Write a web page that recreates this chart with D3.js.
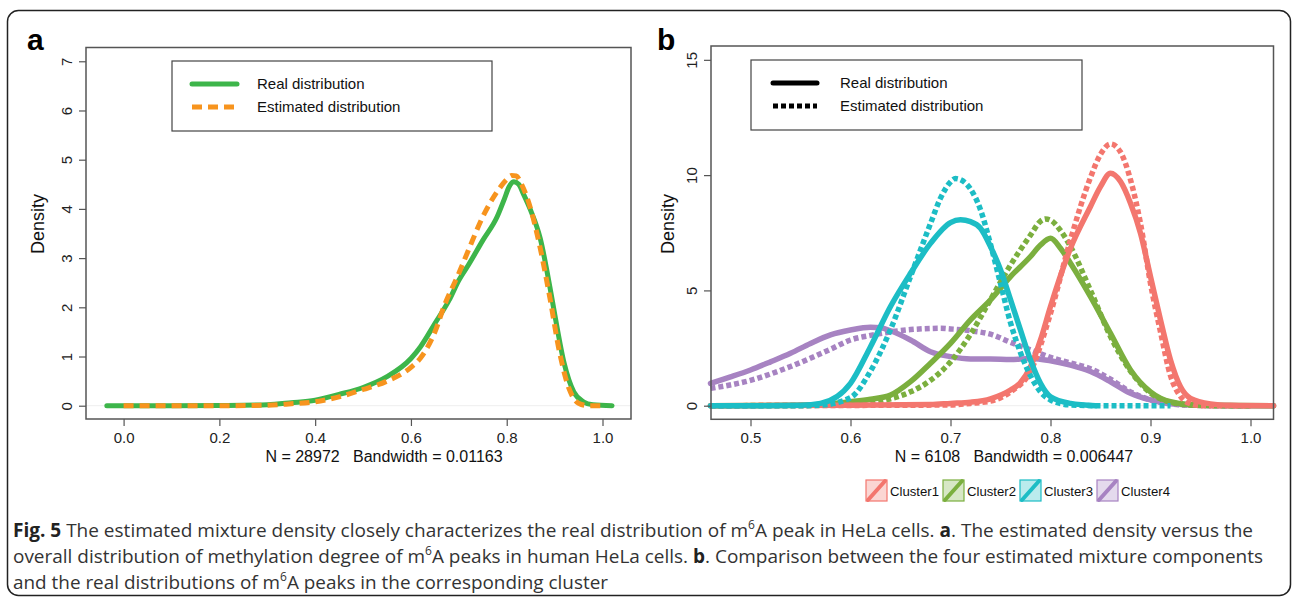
<!DOCTYPE html>
<html><head><meta charset="utf-8">
<script src="https://cdn.jsdelivr.net/npm/d3@7/dist/d3.min.js"></script>
<style>
body{margin:0;background:#fff;}
svg{display:block;}
</style></head>
<body><svg id="c" width="1295" height="601"></svg>
<script>
// ---------- Panel a data ----------
const aRealX = [-0.035, 0.1, 0.2, 0.3, 0.35, 0.4, 0.45, 0.5, 0.55, 0.6, 0.62, 0.65, 0.68, 0.70, 0.72, 0.75, 0.78, 0.795, 0.805, 0.815, 0.825, 0.835, 0.85, 0.87, 0.89, 0.90, 0.92, 0.94, 0.96, 0.98, 1.02];
const aRealY = [0, 0, 0.005, 0.02, 0.06, 0.11, 0.23, 0.37, 0.59, 0.96, 1.2, 1.67, 2.15, 2.55, 2.86, 3.36, 3.84, 4.2, 4.45, 4.55, 4.5, 4.3, 3.97, 3.4, 2.42, 1.87, 0.86, 0.28, 0.08, 0.02, 0];
const aEstX = [0.0, 0.1, 0.2, 0.3, 0.35, 0.4, 0.45, 0.5, 0.55, 0.6, 0.62, 0.65, 0.67, 0.70, 0.72, 0.75, 0.78, 0.80, 0.81, 0.82, 0.83, 0.85, 0.87, 0.89, 0.91, 0.93, 0.95, 0.97, 1.0];
const aEstY = [0, 0, 0, 0.01, 0.04, 0.08, 0.18, 0.33, 0.5, 0.78, 0.97, 1.5, 2.04, 2.69, 3.16, 3.84, 4.35, 4.6, 4.68, 4.67, 4.52, 4.0, 3.2, 2.2, 1.1, 0.35, 0.05, 0, 0];
const aXTicks = [0.0, 0.2, 0.4, 0.6, 0.8, 1.0];
const aYTicks = [0, 1, 2, 3, 4, 5, 6, 7];
const aLegend = ["Real distribution", "Estimated distribution"];
const aSub = "N = 28972   Bandwidth = 0.01163";

// ---------- Panel b data ----------
const clusters = ["Cluster1", "Cluster2", "Cluster3", "Cluster4"];
const c1RealX = [0.46, 0.6, 0.68, 0.70, 0.72, 0.74, 0.76, 0.77, 0.78, 0.79, 0.80, 0.82, 0.84, 0.85, 0.86, 0.87, 0.88, 0.89, 0.90, 0.91, 0.92, 0.93, 0.94, 0.96, 0.98, 1.023];
const c1RealY = [0, 0.02, 0.05, 0.1, 0.15, 0.3, 0.68, 1.0, 1.69, 2.85, 4.3, 6.83, 8.64, 9.5, 10.08, 9.72, 8.78, 7.48, 5.6, 3.72, 1.98, 0.82, 0.32, 0.08, 0.02, 0];
const c1EstX = [0.46, 0.70, 0.72, 0.74, 0.76, 0.78, 0.80, 0.82, 0.84, 0.85, 0.86, 0.87, 0.88, 0.89, 0.90, 0.91, 0.92, 0.93, 0.94, 0.95, 0.98, 1.0];
const c1EstY = [0, 0.03, 0.1, 0.2, 0.6, 1.5, 4.0, 7.2, 9.9, 10.9, 11.35, 11.0, 9.8, 7.9, 5.3, 3.2, 1.3, 0.4, 0.08, 0, 0, 0];
const c2RealX = [0.46, 0.55, 0.58, 0.6, 0.62, 0.64, 0.66, 0.68, 0.70, 0.72, 0.74, 0.76, 0.78, 0.79, 0.80, 0.81, 0.82, 0.84, 0.86, 0.88, 0.90, 0.92, 0.95, 1.023];
const c2RealY = [0, 0.02, 0.08, 0.17, 0.28, 0.46, 1.04, 1.84, 2.7, 3.72, 4.59, 5.6, 6.47, 6.97, 7.26, 6.83, 6.18, 4.73, 3.14, 1.55, 0.6, 0.17, 0.02, 0];
const c2EstX = [0.46, 0.58, 0.6, 0.62, 0.64, 0.66, 0.68, 0.70, 0.72, 0.74, 0.76, 0.78, 0.79, 0.795, 0.80, 0.81, 0.82, 0.84, 0.86, 0.88, 0.90, 0.92, 0.94, 0.97, 1.0];
const c2EstY = [0, 0.02, 0.05, 0.15, 0.3, 0.6, 1.1, 1.9, 3.1, 4.6, 6.1, 7.4, 8.0, 8.1, 8.05, 7.6, 6.9, 5.0, 3.0, 1.5, 0.55, 0.15, 0.03, 0, 0];
const c3RealX = [0.46, 0.50, 0.55, 0.57, 0.6, 0.62, 0.64, 0.66, 0.68, 0.70, 0.71, 0.72, 0.73, 0.74, 0.75, 0.76, 0.77, 0.78, 0.79, 0.80, 0.82, 0.845];
const c3RealY = [0, 0, 0.02, 0.1, 0.97, 2.56, 4.3, 5.74, 7.04, 7.94, 8.06, 7.98, 7.7, 6.9, 5.9, 4.6, 3.28, 1.98, 0.97, 0.39, 0.1, 0];
const c3EstX = [0.46, 0.55, 0.57, 0.6, 0.62, 0.64, 0.66, 0.68, 0.69, 0.70, 0.705, 0.71, 0.72, 0.73, 0.74, 0.75, 0.76, 0.77, 0.78, 0.79, 0.80, 0.82, 0.85, 0.92];
const c3EstY = [0, 0, 0.02, 0.35, 1.5, 3.3, 5.6, 7.9, 9.0, 9.7, 9.85, 9.8, 9.4, 8.5, 7.0, 5.3, 3.6, 2.3, 1.3, 0.6, 0.25, 0.03, 0, 0];
const c4RealX = [0.46, 0.48, 0.50, 0.52, 0.54, 0.56, 0.58, 0.60, 0.62, 0.63, 0.64, 0.66, 0.68, 0.70, 0.72, 0.74, 0.76, 0.78, 0.80, 0.82, 0.84, 0.86, 0.88, 0.90, 0.92, 0.95, 1.0, 1.023];
const c4RealY = [0.97, 1.25, 1.55, 1.9, 2.27, 2.7, 3.07, 3.28, 3.4, 3.38, 3.25, 2.85, 2.34, 2.13, 2.03, 2.03, 2.0, 2.05, 1.95, 1.76, 1.48, 1.04, 0.54, 0.25, 0.08, 0.02, 0, 0];
const c4EstX = [0.46, 0.50, 0.54, 0.58, 0.60, 0.62, 0.64, 0.66, 0.68, 0.69, 0.70, 0.72, 0.74, 0.76, 0.78, 0.80, 0.82, 0.84, 0.86, 0.88, 0.90, 0.92, 0.94, 0.97, 1.0];
const c4EstY = [0.75, 1.1, 1.7, 2.45, 2.85, 3.05, 3.2, 3.3, 3.35, 3.36, 3.33, 3.25, 3.1, 2.75, 2.42, 2.1, 1.85, 1.6, 1.15, 0.6, 0.25, 0.08, 0.02, 0, 0];
const bXTicks = [0.5, 0.6, 0.7, 0.8, 0.9, 1.0];
const bYTicks = [0, 5, 10, 15];
const bLegend = ["Real distribution", "Estimated distribution"];
const bSub = "N = 6108   Bandwidth = 0.006447";

const clusterColors = ["#F3766E", "#7BAF3E", "#1CBDC5", "#A783C2"];
const aColors = ["#3DB54A", "#F7941E"];

const svg = d3.select("#c");
const FONT = "'Liberation Sans', Arial, sans-serif";

// outer frame
svg.append("rect").attr("x", 7.5).attr("y", 10.5).attr("width", 1283).attr("height", 585)
  .attr("rx", 11).attr("fill", "none").attr("stroke", "#222").attr("stroke-width", 1.5);

function panel(opts) {
  const g = svg.append("g");
  const x = d3.scaleLinear().domain(opts.xDomain).range([opts.left, opts.right]);
  const y = d3.scaleLinear().domain(opts.yDomain).range([opts.bottom, opts.top]);
  g.append("line").attr("x1", opts.left).attr("x2", opts.right).attr("y1", y(0)).attr("y2", y(0))
    .attr("stroke", "#eee").attr("stroke-width", 1);
  const line = d3.line().x(d => x(d[0])).y(d => y(d[1])).curve(d3.curveMonotoneX);
  opts.series.forEach(s => {
    const pts = s.xs.map((v, i) => [v, s.ys[i]]);
    g.append("path").attr("d", line(pts)).attr("fill", "none")
      .attr("stroke", s.color).attr("stroke-width", s.width)
      .attr("stroke-dasharray", s.dash || null)
      .attr("stroke-linejoin", "round")
      .attr("stroke-linecap", s.dash ? "butt" : "round");
  });
  g.append("rect").attr("x", opts.left).attr("y", opts.top)
    .attr("width", opts.right - opts.left).attr("height", opts.bottom - opts.top)
    .attr("fill", "none").attr("stroke", "#555").attr("stroke-width", 1.5);
  const xa = g.append("g").attr("transform", `translate(0,${opts.bottom})`)
    .call(d3.axisBottom(x).tickValues(opts.xTicks).tickSize(7).tickPadding(6).tickFormat(d3.format(".1f")));
  xa.select(".domain").remove();
  xa.selectAll("line").attr("stroke", "#555").attr("stroke-width", 1.2);
  xa.selectAll("text").attr("font-family", FONT).attr("font-size", 15).attr("fill", "#222");
  const ya = g.append("g").attr("transform", `translate(${opts.left},0)`)
    .call(d3.axisLeft(y).tickValues(opts.yTicks).tickSize(7).tickFormat(d3.format("d")));
  ya.select(".domain").remove();
  ya.selectAll("line").attr("stroke", "#555").attr("stroke-width", 1.2);
  ya.selectAll("text").attr("font-family", FONT).attr("font-size", 15).attr("fill", "#222")
    .attr("x", null).attr("dy", null)
    .attr("text-anchor", "middle")
    .attr("transform", `translate(${-19},0) rotate(-90)`)
    .attr("y", 0).attr("dy", "0.35em");
  g.append("text").attr("transform", `translate(${opts.ylabX},${opts.ylabY}) rotate(-90)`)
    .attr("text-anchor", "middle").attr("font-family", FONT).attr("font-size", 18)
    .attr("fill", "#111").attr("dy", "0.35em").text("Density");
  g.append("text").attr("x", opts.subX).attr("y", 462).attr("text-anchor", "middle")
    .attr("font-family", FONT).attr("font-size", 16).attr("fill", "#111")
    .attr("xml:space", "preserve").style("white-space", "pre").text(opts.sub);
  g.append("text").attr("x", opts.labX).attr("y", 50).attr("font-family", FONT)
    .attr("font-weight", "bold").attr("font-size", 30).attr("fill", "#000").text(opts.label);
  const L = opts.legend;
  g.append("rect").attr("x", L.x).attr("y", L.y).attr("width", L.w).attr("height", L.h)
    .attr("fill", "#fff").attr("stroke", "#444").attr("stroke-width", 1.2);
  L.items.forEach((it, i) => {
    const yy = L.y + 23 + i * 23;
    g.append("line").attr("x1", L.lx1).attr("x2", L.lx2).attr("y1", yy).attr("y2", yy)
      .attr("stroke", it.color).attr("stroke-width", 5)
      .attr("stroke-dasharray", it.dash || null)
      .attr("stroke-linecap", it.dash ? "butt" : "round");
    g.append("text").attr("x", L.tx).attr("y", yy).attr("dy", "0.35em")
      .attr("font-family", FONT).attr("font-size", 15).attr("fill", "#111").text(it.text);
  });
  return {x, y};
}

panel({
  left: 86, right: 631, top: 47.5, bottom: 419,
  xDomain: [-0.0785, 1.0595], yDomain: [-0.27, 7.28],
  xTicks: aXTicks, yTicks: aYTicks,
  ylabX: 38, ylabY: 224, subX: 384, sub: aSub, labX: 27, label: "a",
  series: [
    {xs: aRealX, ys: aRealY, color: aColors[0], width: 5},
    {xs: aEstX, ys: aEstY, color: aColors[1], width: 5, dash: "10,6"}
  ],
  legend: {x: 172, y: 61, w: 320, h: 70, lx1: 192, lx2: 237, tx: 257,
    items: [{text: aLegend[0], color: aColors[0]}, {text: aLegend[1], color: aColors[1], dash: "10,6"}]}
});

const bSeries = [];
const realX = [c1RealX, c2RealX, c3RealX, c4RealX], realY = [c1RealY, c2RealY, c3RealY, c4RealY];
const estX = [c1EstX, c2EstX, c3EstX, c4EstX], estY = [c1EstY, c2EstY, c3EstY, c4EstY];
[3, 1, 0, 2].forEach(i => {
  bSeries.push({xs: estX[i], ys: estY[i], color: clusterColors[i], width: 5.5, dash: "5,3"});
  bSeries.push({xs: realX[i], ys: realY[i], color: clusterColors[i], width: 5.5});
});
panel({
  left: 711, right: 1273.5, top: 46, bottom: 419.3,
  xDomain: [0.4605, 1.023], yDomain: [-0.59, 15.6],
  xTicks: bXTicks, yTicks: bYTicks,
  ylabX: 668, ylabY: 224, subX: 1014, sub: bSub, labX: 657, label: "b",
  series: bSeries,
  legend: {x: 751, y: 60, w: 331, h: 70, lx1: 773, lx2: 817, tx: 840,
    items: [{text: bLegend[0], color: "#000"}, {text: bLegend[1], color: "#000", dash: "5,3"}]}
});

const legX = [866, 943, 1020, 1097];
clusters.forEach((c, i) => {
  const g = svg.append("g").attr("transform", `translate(${legX[i]},480)`);
  g.append("rect").attr("x", 0).attr("y", 0).attr("width", 21).attr("height", 21)
    .attr("fill", clusterColors[i]).attr("fill-opacity", 0.3)
    .attr("stroke", clusterColors[i]).attr("stroke-width", 1.2);
  g.append("line").attr("x1", 2).attr("y1", 20).attr("x2", 19).attr("y2", 1)
    .attr("stroke", clusterColors[i]).attr("stroke-width", 4).attr("stroke-linecap", "round");
  g.append("text").attr("x", 24).attr("y", 11).attr("dy", "0.35em")
    .attr("font-family", "'Liberation Sans Narrow', 'Liberation Sans', Arial, sans-serif")
    .attr("font-size", 13.5).attr("fill", "#111")
    .attr("textLength", 49).attr("lengthAdjust", "spacingAndGlyphs").text(c);
});

const CAPF = "'Liberation Sans Narrow', 'Open Sans', sans-serif";
const capLines = [
  {y: 537, len: 1240, parts: [["Fig. 5", true], [" The estimated mixture density closely characterizes the real distribution of m", false], ["6", "sup"], ["A peak in HeLa cells. ", false], ["a", true], [". The estimated density versus the", false]]},
  {y: 563, len: 1250, parts: [["overall distribution of methylation degree of m", false], ["6", "sup"], ["A peaks in human HeLa cells. ", false], ["b", true], [". Comparison between the four estimated mixture components", false]]},
  {y: 589, len: 595, parts: [["and the real distributions of m", false], ["6", "sup"], ["A peaks in the corresponding cluster", false]]}
];
capLines.forEach(l => {
  const t = svg.append("text").attr("x", 13).attr("y", l.y).attr("font-family", CAPF)
    .attr("font-size", 19).attr("fill", "#333")
    .attr("textLength", l.len).attr("lengthAdjust", "spacingAndGlyphs")
    .attr("xml:space", "preserve");
  l.parts.forEach(p => {
    const s = t.append("tspan").text(p[0]);
    if (p[1] === true) s.attr("font-weight", "bold").attr("fill", "#222");
    if (p[1] === "sup") s.attr("font-size", 12).attr("baseline-shift", "super");
  });
});
</script></body></html>
